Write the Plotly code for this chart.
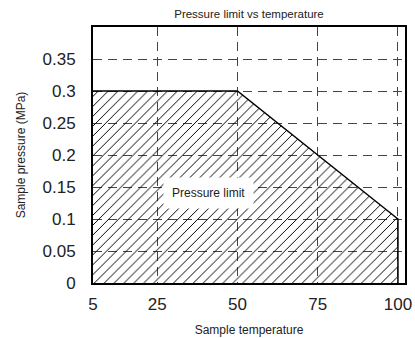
import plotly.graph_objects as go

temperature = [5, 50, 100, 100]
pressure = [0.3, 0.3, 0.1, 0]
x_ticks = [5, 25, 50, 75, 100]
y_ticks = [0, 0.05, 0.1, 0.15, 0.2, 0.25, 0.3, 0.35]
y_tick_text = ["0", "0.05", "0.1", "0.15", "0.2", "0.25", "0.3", "0.35"]
label_text = "Pressure limit"
label_pos = (41, 0.14)

FONT = "Liberation Sans, Arial, sans-serif"

fig = go.Figure()
fig.add_trace(go.Scatter(
    x=temperature, y=pressure, mode="lines", fill="tozeroy",
    line=dict(color="black", width=1.5),
    fillcolor="rgba(0,0,0,0)",
    fillpattern=dict(shape="/", fgcolor="black", fgopacity=1, bgcolor="rgba(0,0,0,0)",
                     size=7, solidity=0.14),
    showlegend=False, hoverinfo="skip",
))

fig.add_annotation(x=label_pos[0], y=label_pos[1], text=label_text,
                   showarrow=False, bgcolor="white", borderpad=8,
                   font=dict(family=FONT, size=12, color="#222"))

axis_common = dict(
    showline=True, linecolor="black", linewidth=2, mirror=True,
    showgrid=True, gridcolor="#444", gridwidth=1.2, griddash="9px,6px",
    zeroline=False, ticks="", automargin=False,
    tickfont=dict(family=FONT, size=17, color="#222"),
)

fig.update_xaxes(range=[5, 102.2], tickvals=x_ticks, ticklabelstandoff=5,
                 title=dict(text="Sample temperature", font=dict(family=FONT, size=12, color="#222"),
                            standoff=12),
                 **axis_common)
fig.update_yaxes(range=[0, 0.4], tickvals=y_ticks, ticktext=y_tick_text, ticklabelstandoff=12,
                 title=dict(text="Sample pressure (MPa)", font=dict(family=FONT, size=12, color="#222"),
                            standoff=14),
                 **axis_common)

fig.update_layout(
    width=415, height=338,
    margin=dict(l=93, r=10, t=27, b=55),
    paper_bgcolor="white", plot_bgcolor="white",
    title=dict(text="Pressure limit vs temperature", x=0.6, xanchor="center", y=0.96, yanchor="middle",
               font=dict(family=FONT, size=11.5, color="#222")),
)

fig.write_html("out.html", config={"displayModeBar": False},
               post_script="document.body.style.margin='0';document.body.style.overflow='hidden';")
